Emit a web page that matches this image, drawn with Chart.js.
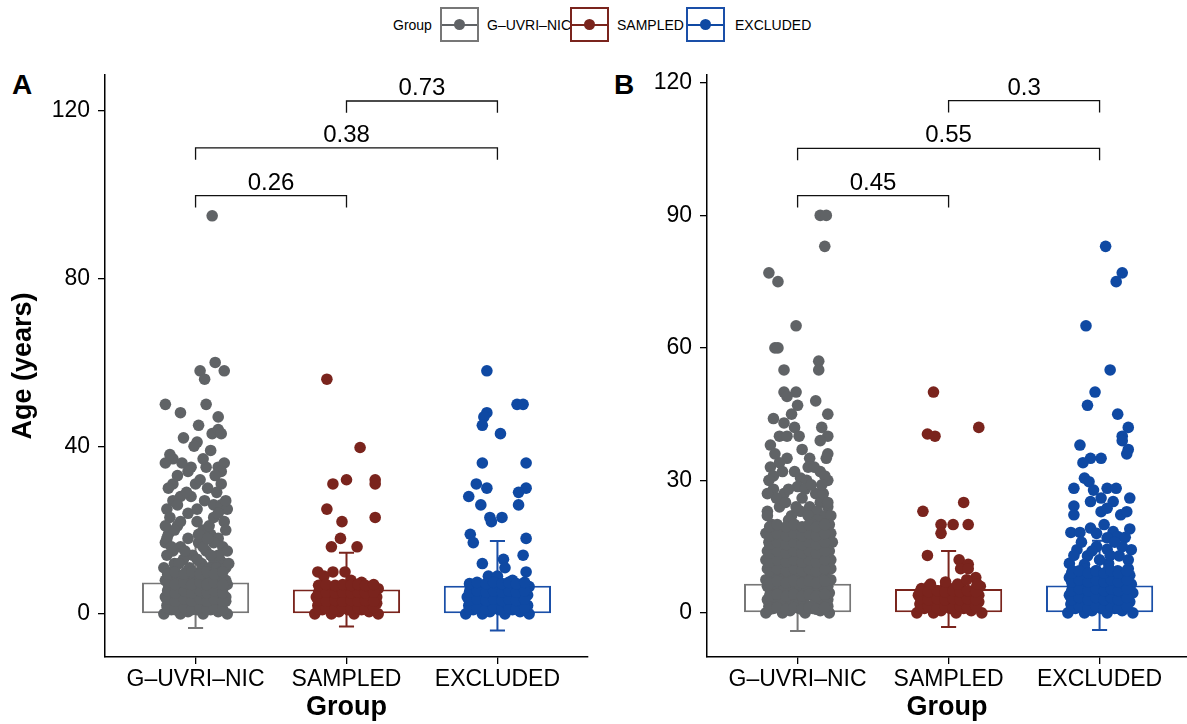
<!DOCTYPE html>
<html>
<head>
<meta charset="utf-8">
<script src="https://cdn.jsdelivr.net/npm/chart.js@4.4.1/dist/chart.umd.min.js"></script>
<style>
  body { margin: 0; width: 1187px; height: 724px; background: #fff; position: relative; overflow: hidden;
         font-family: "Liberation Sans", Arial, Helvetica, sans-serif; }
  #wrapA { position: absolute; left: 0; top: 0; width: 600px; height: 724px; }
  #wrapB { position: absolute; left: 600px; top: 0; width: 600px; height: 724px; }
  .panel { position: absolute; top: 71px; font-size: 28px; font-weight: bold; line-height: 1; color: #000; }
  .lg { position: absolute; font-size: 14px; line-height: 16px; top: 17px; color: #000; white-space: nowrap; }
  .key { position: absolute; top: 7px; width: 35px; height: 31px; border: 2px solid; }
  .key .ln { position: absolute; left: 0; right: 0; top: 50%; height: 2px; margin-top: -1px; }
  .key .dt { position: absolute; left: 50%; top: 50%; width: 11px; height: 11px; margin: -5.5px 0 0 -5.5px; border-radius: 50%; }
</style>
</head>
<body>
<div class="panel" style="left:12px">A</div>
<div class="panel" style="left:614px">B</div>

<div class="lg" style="left:393px">Group</div>
<div class="key" style="left:440px;border-color:#777"><div class="ln" style="background:#606366"></div><div class="dt" style="background:#606366"></div></div>
<div class="lg" style="left:487px">G–UVRI–NIC</div>
<div class="key" style="left:570px;border-color:#7a241d"><div class="ln" style="background:#7a241d"></div><div class="dt" style="background:#7a241d"></div></div>
<div class="lg" style="left:617px">SAMPLED</div>
<div class="key" style="left:686px;border-color:#1a4fa8"><div class="ln" style="background:#0f49a3"></div><div class="dt" style="background:#0f49a3"></div></div>
<div class="lg" style="left:735px">EXCLUDED</div>

<div id="wrapA"><canvas id="chartA"></canvas></div>
<div id="wrapB"><canvas id="chartB"></canvas></div>

<script>
const groups = ['G–UVRI–NIC', 'SAMPLED', 'EXCLUDED'];
const pointColors = ['#606366', '#7a241d', '#0f49a3'];
const boxColors = ['#777777', '#7a241d', '#1a4fa8'];

// ---- Panel A : mean +/- sd, p-values, jittered ages ----
const meanA = [7.5, 5.8, 6.7];
const sdA = [10.9, 8.8, 10.7];
const yTicksA = [0, 40, 80, 120];
const pairsA = [[1, 2], [1, 3], [2, 3]];
const pvalA = ['0.26', '0.38', '0.73'];
const bracketA = [99.8, 111.2, 122.4];

const ageA_guv = [
  95, 60, 58, 58, 56, 50, 50, 48, 47, 45, 43, 44, 43, 42, 41, 40, 36, 37, 35, 34, 35, 35, 36, 34, 31, 31, 31, 30, 28, 27, 28, 26, 26, 25, 25,
  24, 23, 23, 22, 22, 21, 20, 20, 19, 19, 18, 18, 17, 17, 16, 16, 15, 15, 15, 14, 14, 13, 13, 13, 12, 12, 12, 11, 11, 11, 11, 10, 10, 10, 10,
  39, 38, 37, 36, 33, 33, 32, 30, 29, 29, 27, 27, 26, 25, 24, 22, 21, 20, 19, 18, 17, 16, 15, 14, 13, 12, 11, 21, 18, 16, 14, 12,
  0, 1, 0, 0.5, 1, 0, 1, 0.5, 0,
  2, 3, 2, 3, 2.5, 2, 3, 2, 3,
  4, 5, 4.5, 4, 5, 4, 5, 4.5, 4,
  6, 7, 6, 7, 6.5, 6, 7, 6, 7,
  8, 9, 8, 9, 8.5, 9, 8, 9, 8,
  1.5, 1, 1.5, 1, 1.5, 1, 1.5, 1,
  3.5, 3, 3.5, 3, 3.5, 3, 3.5, 3,
  5.5, 5, 5.5, 5, 5.5, 5, 5.5, 5,
  7.5, 7, 7.5, 7, 7.5, 7, 7.5, 7,
  9.5, 10, 9.5, 10, 9.5, 10, 9.5, 10
];
const jitA_guv = [
  0.11, 0.13, 0.19, 0.03, 0.06, -0.20, 0.07, -0.10, 0.15, 0.02, 0.11, 0.15, 0.17, -0.08, 0.01, -0.01, -0.20, -0.15, -0.03, -0.05, 0.07, 0.15, 0.19, 0.17, -0.15, 0, 0.17, 0.08, -0.10, -0.15, -0.03, 0.12, 0.17, 0.21, -0.19,
  -0.05, 0.12, -0.17, 0.01, 0.19, -0.12, 0.05, 0.2, -0.18, 0.1, -0.05, 0.15, -0.2, 0.02, -0.1, 0.18, -0.15, 0.07, 0.21, -0.02, -0.19, 0.12, -0.08, 0.16, -0.14, 0.04, 0.19, -0.21, -0.04, 0.09, 0.14, -0.16, -0.06, 0.03, 0.17,
  0.1, -0.17, 0.05, -0.09, 0.13, -0.12, 0.03, -0.18, 0.14, -0.06, 0.2, 0.06, -0.12, 0.01, 0.15, -0.1, 0.09, -0.14, 0.02, -0.19, 0.12, 0.05, -0.07, 0.15, 0.01, -0.11, 0.2, -0.2, 0.08, -0.16, 0.1, 0.22,
  -0.21, -0.16, -0.1, -0.05, 0.01, 0.05, 0.1, 0.15, 0.21,
  -0.19, -0.14, -0.08, -0.03, 0.02, 0.07, 0.12, 0.17, 0.2,
  -0.2, -0.15, -0.11, -0.06, 0, 0.04, 0.09, 0.14, 0.2,
  -0.18, -0.13, -0.07, -0.02, 0.03, 0.08, 0.13, 0.18, 0.21,
  -0.2, -0.14, -0.09, -0.04, 0.01, 0.06, 0.11, 0.16, 0.2,
  -0.185, -0.135, -0.075, -0.025, 0.03, 0.075, 0.125, 0.18,
  -0.185, -0.135, -0.075, -0.025, 0.03, 0.075, 0.125, 0.18,
  -0.185, -0.135, -0.075, -0.025, 0.03, 0.075, 0.125, 0.18,
  -0.185, -0.135, -0.075, -0.025, 0.03, 0.075, 0.125, 0.18,
  -0.185, -0.135, -0.075, -0.025, 0.03, 0.075, 0.125, 0.18
];

const ageA_smp = [
  56, 39.7, 31, 32, 32, 31, 25, 23, 22, 18, 16, 16, 10, 10, 10, 9, 8, 7, 7.5,
  0, 1, 0, 0.5, 1, 0, 1, 0.5, 0,
  2, 2.5, 2, 3, 2, 2.5, 3, 2, 2.5,
  4, 3.5, 4, 4.5, 4, 3.5, 4, 4.5, 4,
  5.5, 6, 5, 6, 5.5, 6, 5, 5.5, 6,
  1.2, 1.5, 1.2, 1.5, 1.2, 1.5, 1.2, 1.5,
  3.2, 3, 3.2, 3, 3.2, 3, 3.2, 3,
  5, 5.2, 5, 5.2, 5, 5.2, 5, 5.2,
  6.8, 7, 6.8, 7, 6.8, 7, 6.8, 7
];
const jitA_smp = [
  -0.13, 0.09, -0.09, 0, 0.19, 0.19, -0.13, 0.19, -0.03, -0.04, -0.10, 0.07, -0.19, -0.09, -0.01, -0.15, 0.03, 0.05, 0.1,
  -0.21, -0.16, -0.1, -0.05, 0.01, 0.05, 0.1, 0.15, 0.21,
  -0.19, -0.14, -0.08, -0.03, 0.02, 0.07, 0.12, 0.17, 0.2,
  -0.2, -0.15, -0.11, -0.06, 0, 0.04, 0.09, 0.14, 0.2,
  -0.18, -0.13, -0.07, -0.02, 0.03, 0.08, 0.13, 0.18, 0.21,
  -0.185, -0.135, -0.075, -0.025, 0.03, 0.075, 0.125, 0.18,
  -0.185, -0.135, -0.075, -0.025, 0.03, 0.075, 0.125, 0.18,
  -0.185, -0.135, -0.075, -0.025, 0.03, 0.075, 0.125, 0.18,
  -0.185, -0.135, -0.075, -0.025, 0.03, 0.075, 0.125, 0.18
];

const ageA_exc = [
  58, 50, 50, 48, 47, 45, 43, 36, 36, 31, 30, 30, 29, 28, 26, 26, 23, 22, 23, 19, 17, 18, 14, 12, 13, 11, 9, 9, 10, 8,
  0, 1, 0, 0.5, 1, 0, 1, 0.5, 0,
  2, 3, 2, 2.5, 3, 2, 3, 2.5, 2,
  4, 4.5, 4, 5, 4, 4.5, 5, 4, 4.5,
  6, 6.5, 6, 7, 6, 6.5, 7, 6, 6.5,
  1.2, 1.5, 1.2, 1.5, 1.2, 1.5, 1.2, 1.5,
  3.2, 3.5, 3.2, 3.5, 3.2, 3.5, 3.2, 3.5,
  5.2, 5.5, 5.2, 5.5, 5.2, 5.5, 5.2, 5.5,
  7.2, 7.5, 7.2, 7.5, 7.2, 7.5, 7.2, 7.5
];
const jitA_exc = [
  -0.07, 0.13, 0.17, -0.07, -0.09, -0.10, 0.02, -0.10, 0.19, -0.14, -0.07, 0.19, 0.14, -0.19, -0.11, 0.14, -0.05, -0.04, 0.03, -0.18, -0.16, 0.19, 0.17, -0.10, 0.04, 0.05, -0.06, 0, 0.19, 0.10,
  -0.21, -0.16, -0.1, -0.05, 0.01, 0.05, 0.1, 0.15, 0.21,
  -0.19, -0.14, -0.08, -0.03, 0.02, 0.07, 0.12, 0.17, 0.2,
  -0.2, -0.15, -0.11, -0.06, 0, 0.04, 0.09, 0.14, 0.2,
  -0.18, -0.13, -0.07, -0.02, 0.03, 0.08, 0.13, 0.18, 0.21,
  -0.185, -0.135, -0.075, -0.025, 0.03, 0.075, 0.125, 0.18,
  -0.185, -0.135, -0.075, -0.025, 0.03, 0.075, 0.125, 0.18,
  -0.185, -0.135, -0.075, -0.025, 0.03, 0.075, 0.125, 0.18,
  -0.185, -0.135, -0.075, -0.025, 0.03, 0.075, 0.125, 0.18
];

// ---- Panel B ----
const meanB = [6.6, 5.4, 6.2];
const sdB = [10.7, 8.6, 10.1];
const yTicksB = [0, 30, 60, 90, 120];
const pairsB = [[1, 2], [1, 3], [2, 3]];
const pvalB = ['0.45', '0.55', '0.3'];
const bracketB = [94.5, 105.2, 116];

const ageB_guv = [
  90, 90, 83, 77, 75, 65, 60, 60, 55, 57, 55, 50, 50, 49, 48, 47, 45, 45, 44, 43, 42, 42, 40, 40, 40, 40, 39, 38, 37, 36,
  35, 35, 35, 33, 33, 32, 31, 30.5, 30, 30, 28, 27, 28.6, 28, 27, 24, 25, 24, 23,
  34, 33, 32, 31, 30, 29, 28, 27, 26, 26, 25, 25, 24, 23, 23, 22, 22, 21, 36, 32, 29, 27, 24,
  22, 21, 22, 21, 22,
  20, 19, 20, 19, 20, 19, 20,
  18, 17, 18, 17, 18, 17, 18, 17, 18,
  16, 15, 16, 15, 16, 15, 16, 15, 16,
  14, 13, 14, 13, 14, 13, 14, 13, 14,
  12, 11, 12, 11, 12, 11, 12, 11, 12,
  10, 9, 10, 9, 10, 9, 10, 9, 10,
  0, 1, 0, 0.5, 1, 0, 1, 0.5, 0,
  1.5, 2, 1.5, 2.5, 2, 1.5, 2.5, 2, 1.5,
  3, 3.5, 3, 4, 3.5, 3, 4, 3.5, 3,
  4.5, 5, 4.5, 5.5, 5, 4.5, 5.5, 5, 4.5,
  6, 6.5, 6, 7, 6.5, 6, 7, 6.5, 6,
  7.5, 8, 7.5, 8.5, 8, 7.5, 8.5, 8, 7.5,
  0.8, 1.2, 0.8, 1.2, 0.8, 1.2, 0.8, 1.2,
  3.8, 4.2, 3.8, 4.2, 3.8, 4.2, 3.8, 4.2,
  6.8, 7.2, 6.8, 7.2, 6.8, 7.2, 6.8, 7.2,
  9.5, 10, 9.5, 10, 9.5, 10, 9.5, 10,
  11.5, 12, 11.5, 12, 11.5, 12, 11.5, 12,
  13.5, 14, 13.5, 14, 13.5, 14, 13.5, 14,
  15.5, 16, 15.5, 16, 15.5, 16, 15.5, 16,
  17.5, 18, 17.5, 18, 17.5, 18, 17.5, 18,
  19.5, 20, 19.5, 20, 19.5, 20, 19.5, 20
];
const jitB_guv = [
  0.15, 0.19, 0.18, -0.19, -0.13, -0.01, -0.15, -0.13, -0.09, 0.14, 0.14, -0.09, -0.01, -0.07, 0.12, 0, -0.04, 0.20, -0.16, -0.09, -0.02, 0.16, -0.12, -0.07, 0.01, 0.2, 0.15, -0.18, 0.03, 0.2,
  0.19, -0.07, 0.08, -0.18, 0.07, 0.15, -0.16, 0.02, 0.06, 0.2, -0.16, -0.09, 0, 0.05, 0.12, -0.12, 0.15, 0.2, 0.02,
  -0.12, 0.11, -0.02, 0.18, -0.19, 0.09, -0.06, 0.17, -0.14, 0.03, 0.2, -0.08, 0.08, -0.2, 0.13, -0.04, 0.18, 0.1, -0.15, -0.1, 0.16, -0.2, -0.01,
  -0.2, -0.06, 0.07, 0.13, 0.22,
  -0.17, -0.1, -0.02, 0.04, 0.1, 0.16, 0.21,
  -0.21, -0.15, -0.09, -0.04, 0.02, 0.07, 0.12, 0.17, 0.22,
  -0.19, -0.13, -0.08, -0.02, 0.03, 0.09, 0.14, 0.19, 0.23,
  -0.2, -0.15, -0.1, -0.04, 0.01, 0.06, 0.11, 0.16, 0.21,
  -0.21, -0.16, -0.1, -0.05, 0, 0.05, 0.1, 0.15, 0.22,
  -0.2, -0.14, -0.09, -0.03, 0.02, 0.07, 0.13, 0.18, 0.22,
  -0.21, -0.16, -0.1, -0.05, 0.01, 0.05, 0.1, 0.15, 0.21,
  -0.19, -0.14, -0.08, -0.03, 0.02, 0.07, 0.12, 0.17, 0.2,
  -0.2, -0.15, -0.11, -0.06, 0, 0.04, 0.09, 0.14, 0.2,
  -0.18, -0.13, -0.07, -0.02, 0.03, 0.08, 0.13, 0.18, 0.21,
  -0.2, -0.14, -0.09, -0.04, 0.01, 0.06, 0.11, 0.16, 0.2,
  -0.21, -0.15, -0.1, -0.05, 0, 0.05, 0.1, 0.15, 0.22,
  -0.185, -0.135, -0.075, -0.025, 0.03, 0.075, 0.125, 0.18,
  -0.185, -0.135, -0.075, -0.025, 0.03, 0.075, 0.125, 0.18,
  -0.185, -0.135, -0.075, -0.025, 0.03, 0.075, 0.125, 0.18,
  -0.185, -0.135, -0.075, -0.025, 0.03, 0.075, 0.125, 0.18,
  -0.185, -0.135, -0.075, -0.025, 0.03, 0.075, 0.125, 0.18,
  -0.185, -0.135, -0.075, -0.025, 0.03, 0.075, 0.125, 0.18,
  -0.185, -0.135, -0.075, -0.025, 0.03, 0.075, 0.125, 0.18,
  -0.185, -0.135, -0.075, -0.025, 0.03, 0.075, 0.125, 0.18,
  -0.185, -0.135, -0.075, -0.025, 0.03, 0.075, 0.125, 0.18
];

const ageB_smp = [
  50, 40.5, 40, 42, 25, 23, 20, 20, 20, 18, 13, 12, 11, 10, 10, 8,
  0, 1, 0, 0.5, 1, 0, 1, 0.5, 0,
  2, 2.5, 2, 3, 2, 2.5, 3, 2, 2.5,
  4, 3.5, 4, 4.5, 4, 3.5, 4, 4.5, 4,
  5.5, 6, 5, 6, 5.5, 6, 5, 5.5, 6,
  1.2, 1.5, 1.2, 1.5, 1.2, 1.5, 1.2, 1.5,
  3.2, 3, 3.2, 3, 3.2, 3, 3.2, 3,
  5, 4.8, 5, 4.8, 5, 4.8, 5, 4.8,
  6.5, 7, 6.5, 7.5, 6.5
];
const jitB_smp = [
  -0.10, -0.14, -0.09, 0.20, 0.10, -0.17, -0.05, 0.03, 0.13, -0.05, -0.14, 0.07, 0.13, 0.08, 0.13, 0.18,
  -0.21, -0.16, -0.1, -0.05, 0.01, 0.05, 0.1, 0.15, 0.22,
  -0.19, -0.14, -0.08, -0.03, 0.02, 0.07, 0.12, 0.17, 0.2,
  -0.2, -0.15, -0.11, -0.06, 0, 0.04, 0.09, 0.14, 0.2,
  -0.18, -0.13, -0.07, -0.02, 0.03, 0.08, 0.13, 0.18, 0.21,
  -0.185, -0.135, -0.075, -0.025, 0.03, 0.075, 0.125, 0.18,
  -0.185, -0.135, -0.075, -0.025, 0.03, 0.075, 0.125, 0.18,
  -0.185, -0.135, -0.075, -0.025, 0.03, 0.075, 0.125, 0.18,
  -0.12, -0.02, 0.06, 0.12, 0.19
];

const ageB_exc = [
  83, 77, 75, 65, 55, 50, 47, 45, 42, 40, 39, 38, 37, 36, 35, 35, 34, 30.5, 29.7, 28.2,
  27.8, 28.2, 28.2, 26, 25.2, 26, 25.2, 24.2, 22.2, 22.9, 23.7, 22.2, 22.9, 20, 19.2, 18.2, 18.2, 18.4, 17.3, 17.1,
  15, 14.4, 14.3, 14.3, 12.9, 12.9, 11.2, 11.2,
  19, 18, 17, 16, 15, 14, 13, 12, 11, 16, 13, 12,
  0, 1, 0, 0.5, 1, 0, 1, 0.5, 0,
  2, 2.5, 2, 3, 2, 2.5, 3, 2, 2.5,
  4, 4.5, 4, 5, 4, 4.5, 5, 4, 4.5,
  6, 6.5, 6, 7, 6, 6.5, 7, 6, 6.5,
  8, 8.5, 8, 9, 8, 8.5, 9, 8, 8.5,
  9.5, 10, 9.5, 10, 9.5, 10,
  1, 1.5, 1, 1.5, 1, 1.5, 1, 1.5,
  3, 3.5, 3, 3.5, 3, 3.5, 3, 3.5,
  5, 5.5, 5, 5.5, 5, 5.5, 5, 5.5,
  7, 7.5, 7, 7.5, 7, 7.5, 7, 7.5,
  9, 9.5, 9, 9.5, 9, 9.5, 9, 9.5
];
const jitB_exc = [
  0.04, 0.15, 0.11, -0.09, 0.07, -0.03, -0.08, 0.12, 0.19, 0.15, 0.15, -0.13, 0.19, 0.18, -0.06, 0.01, -0.11, -0.1, -0.07, -0.17,
  -0.04, 0.05, 0.11, 0.2, -0.06, 0.01, 0.09, -0.17, -0.17, 0.01, 0.05, 0.14, 0.18, 0.03, -0.06, -0.19, -0.13, 0.09, 0.12, 0.17,
  -0.02, 0.05, 0.21, -0.15, -0.08, 0.13, -0.2, 0.06,
  0.2, -0.02, 0.05, -0.12, 0.15, -0.05, 0.07, 0.19, -0.1, 0.1, -0.17, 0,
  -0.21, -0.16, -0.1, -0.05, 0.01, 0.05, 0.1, 0.15, 0.22,
  -0.19, -0.14, -0.08, -0.03, 0.02, 0.07, 0.12, 0.17, 0.2,
  -0.2, -0.15, -0.11, -0.06, 0, 0.04, 0.09, 0.14, 0.22,
  -0.18, -0.13, -0.07, -0.02, 0.03, 0.08, 0.13, 0.18, 0.21,
  -0.2, -0.14, -0.09, -0.04, 0.01, 0.06, 0.11, 0.16, 0.2,
  -0.18, -0.1, -0.02, 0.06, 0.12, 0.19,
  -0.185, -0.135, -0.075, -0.025, 0.03, 0.075, 0.125, 0.18,
  -0.185, -0.135, -0.075, -0.025, 0.03, 0.075, 0.125, 0.18,
  -0.185, -0.135, -0.075, -0.025, 0.03, 0.075, 0.125, 0.18,
  -0.185, -0.135, -0.075, -0.025, 0.03, 0.075, 0.125, 0.18,
  -0.185, -0.135, -0.075, -0.025, 0.03, 0.075, 0.125, 0.18
];

const FONT = '"Liberation Sans", Arial, Helvetica, sans-serif';
Chart.defaults.font.family = FONT;
Chart.defaults.color = '#000';

// p-value labels above the brackets
const bracketLabels = {
  id: 'bracketLabels',
  afterDatasetsDraw(chart, args, opts) {
    const { ctx } = chart;
    const x = chart.scales.x, y = chart.scales.y;
    ctx.save();
    ctx.font = '24px ' + FONT;
    ctx.fillStyle = '#000';
    ctx.textAlign = 'center';
    ctx.textBaseline = 'alphabetic';
    opts.pairs.forEach((p, i) => {
      const px = x.getPixelForValue((p[0] + p[1]) / 2);
      const py = y.getPixelForValue(opts.heights[i]) - 6;
      ctx.fillText(opts.labels[i], px, py);
    });
    ctx.restore();
  }
};

function buildChart(id, cfg) {
  const datasets = [];

  // mean bars (outlined boxes)
  datasets.push({
    type: 'bar',
    data: cfg.mean.map((m, i) => ({ x: i + 1, y: m })),
    backgroundColor: '#ffffff',
    borderColor: boxColors,
    borderWidth: 2,
    borderSkipped: false,
    categoryPercentage: 1,
    barPercentage: 0.71,
    order: 4
  });

  // error bars: mean +/- sd
  cfg.mean.forEach((m, i) => {
    const c = i + 1, lo = m - cfg.sd[i], hi = m + cfg.sd[i], w = 0.05;
    datasets.push({
      type: 'line',
      data: [
        { x: c, y: lo }, { x: c, y: hi }, { x: c, y: null },
        { x: c - w, y: hi }, { x: c + w, y: hi }, { x: c, y: null },
        { x: c - w, y: lo }, { x: c + w, y: lo }
      ],
      borderColor: boxColors[i],
      borderWidth: 2,
      pointRadius: 0,
      spanGaps: false,
      fill: false,
      order: 3
    });
  });

  // jittered points
  cfg.points.forEach((g, i) => {
    datasets.push({
      type: 'scatter',
      data: g.age.map((v, k) => ({ x: i + 1 + g.jit[k], y: v })),
      backgroundColor: pointColors[i],
      borderWidth: 0,
      pointRadius: 5.8,
      order: 2
    });
  });

  // significance brackets
  const br = [];
  cfg.pairs.forEach((p, i) => {
    const h = cfg.heights[i];
    br.push({ x: p[0], y: h - cfg.tick }, { x: p[0], y: h }, { x: p[1], y: h }, { x: p[1], y: h - cfg.tick }, { x: p[1], y: null });
  });
  datasets.push({
    type: 'line',
    data: br,
    borderColor: '#111',
    borderWidth: 1.3,
    pointRadius: 0,
    spanGaps: false,
    fill: false,
    order: 1
  });

  return new Chart(document.getElementById(id), {
    type: 'scatter',
    data: { datasets },
    plugins: [bracketLabels],
    options: {
      responsive: true,
      maintainAspectRatio: false,
      animation: false,
      events: [],
      layout: { padding: { top: 75, right: cfg.padRight, bottom: 0, left: 0 } },
      plugins: {
        legend: { display: false },
        tooltip: { enabled: false },
        bracketLabels: { pairs: cfg.pairs, labels: cfg.labels, heights: cfg.heights }
      },
      scales: {
        x: {
          type: 'linear',
          min: 0.4,
          max: cfg.xMax,
          offset: false,
          afterBuildTicks: s => { s.ticks = [1, 2, 3].map(v => ({ value: v })); },
          afterFit: s => { s.height = 67; },
          grid: { drawOnChartArea: false, offset: false, tickLength: 7, color: '#000', lineWidth: 1.3 },
          border: { display: true, color: '#000', width: 1.5 },
          ticks: {
            color: '#000', padding: 2, maxRotation: 0, autoSkip: false,
            font: { size: 23 },
            callback: v => groups[Math.round(v) - 1]
          },
          title: { display: true, text: 'Group', color: '#000', padding: 0, font: { size: 27, weight: 'bold' } }
        },
        y: {
          type: 'linear',
          min: cfg.yMin,
          max: cfg.yMax,
          afterBuildTicks: s => { s.ticks = cfg.yTicks.map(v => ({ value: v })); },
          afterFit: s => { s.width = cfg.yWidth; },
          grid: { drawOnChartArea: false, tickLength: 7, color: '#000', lineWidth: 1.3 },
          border: { display: true, color: '#000', width: 1.5 },
          ticks: { color: '#000', padding: 8, font: { size: 23 } },
          title: { display: cfg.yTitle, text: 'Age (years)', color: '#000', padding: { top: 7, bottom: 0 }, font: { size: 27, weight: 'bold' } }
        }
      }
    }
  });
}

buildChart('chartA', {
  mean: meanA, sd: sdA,
  points: [{ age: ageA_guv, jit: jitA_guv }, { age: ageA_smp, jit: jitA_smp }, { age: ageA_exc, jit: jitA_exc }],
  pairs: pairsA, labels: pvalA, heights: bracketA, tick: 2.8,
  yMin: -10.3, yMax: 128.6, yTicks: yTicksA, yWidth: 105, yTitle: true,
  xMax: 3.6, padRight: 12
});

buildChart('chartB', {
  mean: meanB, sd: sdB,
  points: [{ age: ageB_guv, jit: jitB_guv }, { age: ageB_smp, jit: jitB_smp }, { age: ageB_exc, jit: jitB_exc }],
  pairs: pairsB, labels: pvalB, heights: bracketB, tick: 2.7,
  yMin: -10, yMax: 121.8, yTicks: yTicksB, yWidth: 107, yTitle: false,
  xMax: 3.579, padRight: 13
});
</script>
</body>
</html>
